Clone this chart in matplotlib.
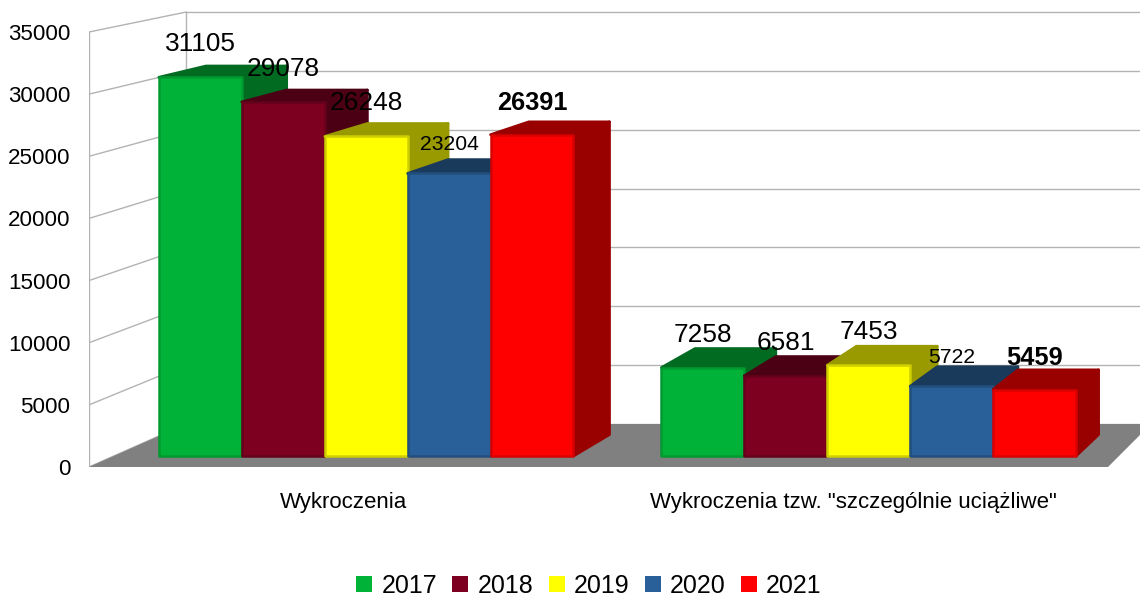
import matplotlib
matplotlib.use("Agg")
import matplotlib.pyplot as plt
from matplotlib.patches import Polygon, Patch

plt.rcParams['font.family'] = ['Liberation Sans', 'DejaVu Sans']

# data
categories = ['Wykroczenia', 'Wykroczenia tzw. "szczególnie uciążliwe"']
years = ['2017', '2018', '2019', '2020', '2021']
values_2017 = [31105, 7258]
values_2018 = [29078, 6581]
values_2019 = [26248, 7453]
values_2020 = [23204, 5722]
values_2021 = [26391, 5459]
y_ticks = [0, 5000, 10000, 15000, 20000, 25000, 30000, 35000]

series = [values_2017, values_2018, values_2019, values_2020, values_2021]

# front, top/side and edge colours per year
front_colors = ['#00b237', '#7e0021', '#ffff00', '#2a6099', '#ff0000']
side_colors = ['#006b21', '#4c0014', '#999900', '#1a3a5c', '#990000']
edge_colors = ['#009a30', '#66001b', '#cfcf00', '#224f7d', '#d90000']
label_sizes = [18.9, 18.9, 18.9, 15.2, 18.3]
label_weights = ['normal', 'normal', 'normal', 'normal', 'bold']
label_offsets = [33, 33, 33, 29, 32]

# perspective: vanishing point and depth factors, in data units
VP_X = 3.59
VP_Y = 65253
F_WALL = 0.947
F_BAR_FRONT = 0.9864
F_BAR_BACK = 0.96
BAR_WIDTH = 0.165
BAR_SHIFT = 0.002
BAR_HEIGHT = 0.993
GRID = '#b3b3b3'


def proj(x, v, f):
    return (VP_X + (x - VP_X) * f, VP_Y + (v - VP_Y) * f)


def face(points, f_list):
    return [proj(p[0], p[1], f) for p, f in zip(points, f_list)]


fig = plt.figure(figsize=(11.4, 5.98), dpi=100)
ax = fig.add_axes([89 / 1140, 1 - 467 / 598, (1140 - 89) / 1140, 467 / 598])
ax.set_xlim(0, 2 + 32 / 509.5)
ax.set_ylim(0, 35000 * 467 / 435)
for s in ax.spines.values():
    s.set_visible(False)

# floor
floor = face([(0, 0), (0, 0), (2, 0), (2, 0)], [1, F_WALL, F_WALL, 1])
ax.add_patch(Polygon(floor, closed=True, fc='#808080', ec='none', zorder=1))

# walls and gridlines
top = y_ticks[-1]
ax.plot([0, 0], [0, top], color=GRID, lw=1, zorder=0)
bx, by0 = proj(0, 0, F_WALL)
bx, by1 = proj(0, top, F_WALL)
ax.plot([bx, bx], [by0, by1], color=GRID, lw=1, zorder=0)
for t in y_ticks:
    x1, y1 = proj(0, t, F_WALL)
    ax.plot([0, x1], [t, y1], color=GRID, lw=1, zorder=0)
    ax.plot([x1, 2.2], [y1, y1], color=GRID, lw=1, zorder=0)

# bars, left to right so the next bar covers the side of the previous one
order = 2
for c in range(len(categories)):
    left = c + 0.5 + BAR_SHIFT - BAR_WIDTH * len(series) / 2
    for i, vals in enumerate(series):
        x0 = left + i * BAR_WIDTH
        x1 = x0 + BAR_WIDTH
        v = vals[c] * BAR_HEIGHT
        ff, fb = F_BAR_FRONT, F_BAR_BACK
        side = face([(x1, 0), (x1, v), (x1, v), (x1, 0)], [ff, ff, fb, fb])
        topf = face([(x0, v), (x1, v), (x1, v), (x0, v)], [ff, ff, fb, fb])
        front = face([(x0, 0), (x1, 0), (x1, v), (x0, v)], [ff, ff, ff, ff])
        ax.add_patch(Polygon(side, closed=True, fc=side_colors[i], ec=side_colors[i],
                             lw=2, joinstyle='round', zorder=order))
        ax.add_patch(Polygon(topf, closed=True, fc=side_colors[i], ec=side_colors[i],
                             lw=2, joinstyle='round', zorder=order))
        ax.add_patch(Polygon(front, closed=True, fc=front_colors[i], ec=edge_colors[i],
                             lw=1.8, joinstyle='round', zorder=order + 1))
        order += 2

# value labels go over every bar
for c in range(len(categories)):
    left = c + 0.5 + BAR_SHIFT - BAR_WIDTH * len(series) / 2
    for i, vals in enumerate(series):
        x0 = left + i * BAR_WIDTH
        px, py = proj(x0 + BAR_WIDTH / 2, vals[c] * BAR_HEIGHT, F_BAR_FRONT)
        ax.annotate(str(vals[c]), (px, py), xytext=(0, label_offsets[i] * 0.72),
                    textcoords='offset points', ha='center', va='center',
                    fontsize=label_sizes[i], fontweight=label_weights[i],
                    color='black', zorder=100, annotation_clip=False)

ax.set_yticks(y_ticks)
ax.set_yticklabels([str(t) for t in y_ticks], fontsize=16.1)
ax.set_xticks([0.5, 1.5])
ax.set_xticklabels(categories, fontsize=16)
ax.tick_params(axis='y', length=0, pad=13.5)
ax.tick_params(axis='x', length=0, pad=18)

handles = [Patch(fc=col, ec='none', label=y) for col, y in zip(front_colors, years)]
fig.legend(handles=handles, loc='center', bbox_to_anchor=(589 / 1140, 1 - 586 / 598),
           ncol=5, frameon=False, fontsize=18, handlelength=0.64, handleheight=0.64,
           handletextpad=0.36, columnspacing=0.62, borderpad=0, borderaxespad=0)

fig.savefig('out.png', dpi=100)
